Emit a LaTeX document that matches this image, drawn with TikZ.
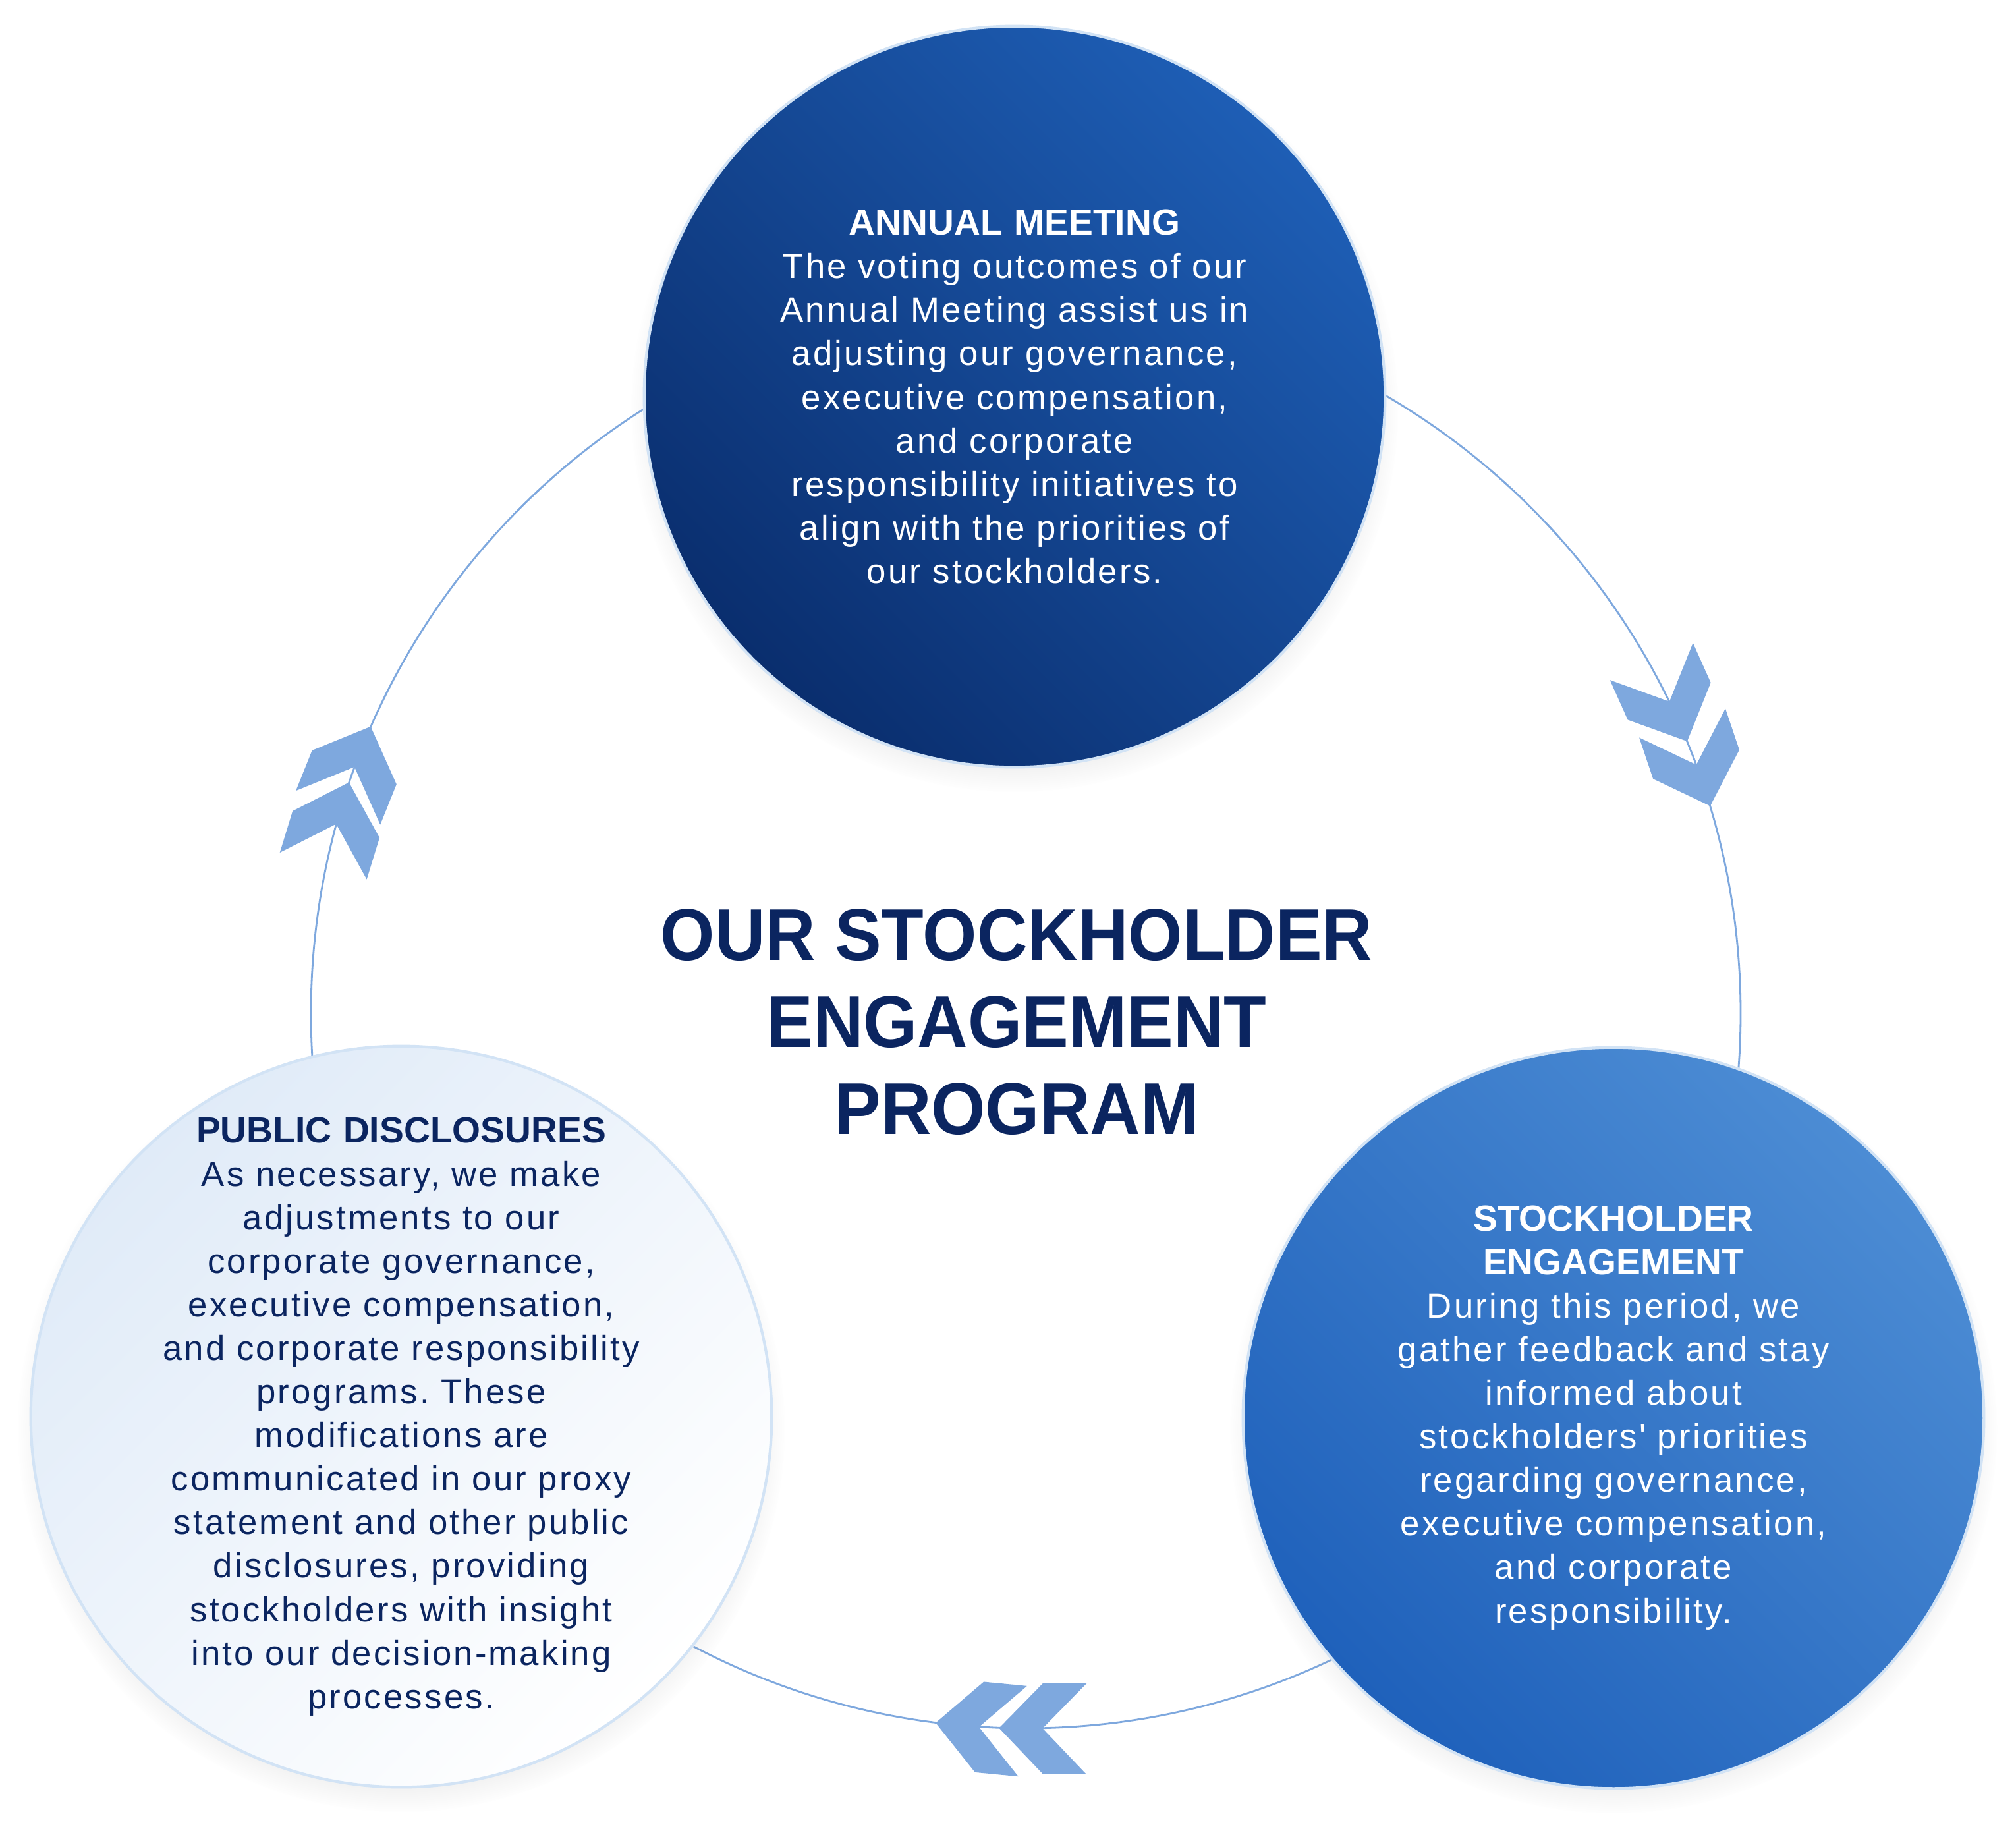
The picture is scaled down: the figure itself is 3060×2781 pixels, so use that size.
\documentclass[tikz,border=0pt]{standalone}
\usepackage{fontspec}
\setmainfont{Liberation Sans}
\newfontfamily\bodyfont[LetterSpace=6]{Liberation Sans}
\newfontfamily\titlefont[FakeStretch=0.95]{Liberation Sans}
\newcommand\head[1]{{\fontspec{Liberation Sans}\bfseries\fontsize{15.7}{18.78}\selectfont #1}}
\frenchspacing
\usepackage{tikz}
\usetikzlibrary{shadows}

\definecolor{navy}{HTML}{0B2560}
\definecolor{ringblue}{HTML}{7EA8DE}
\definecolor{edgeblue}{HTML}{D2E3F5}
\definecolor{deepA}{HTML}{0A2E6E}
\definecolor{deepB}{HTML}{1E5EB5}
\definecolor{midA}{HTML}{1F61BB}
\definecolor{midB}{HTML}{4C8CD4}
\definecolor{paleA}{HTML}{E0EBF8}

\tikzset{
  disc/.style={circle, minimum size=11.24cm, inner sep=0pt, draw=edgeblue, line width=1.2pt,
    circular drop shadow={shadow xshift=0pt, shadow yshift=-5pt, shadow scale=1.035, opacity=.22}},
  blurb/.style={align=center, text width=9cm, inner sep=0pt,
    font=\bodyfont\fontsize{15}{18.78}\selectfont},
  chevron/.style={fill=ringblue},
}

\begin{document}
\begin{tikzpicture}[x=0.01cm,y=0.01cm]

        \fill[white] (0,0) rectangle (3060,-2781);
        \useasboundingbox (0,0) rectangle (3060,-2781);

        \coordinate (ringc) at (1557,-1538);
        \draw[ringblue, line width=0.8pt] (ringc) circle[radius=1085];

        % chevrons on the ring, pointing clockwise
        \foreach \an in {24.1,18.6,-90.4,-95.5,158.1,162.9}
            { \fill[chevron, shift={(ringc)}, shift={(\an:1085)}, rotate=\an-90]
                (33,0) -- (-33.7,69) -- (-99.7,69) -- (-33,0) -- (-99.7,-69) -- (-33.7,-69) -- cycle; }

        \node[disc, bottom color=deepA, top color=deepB, shading angle=-45] (annual) at (1540,-602) {};
        \node[disc, bottom color=midA, top color=midB, shading angle=-45] (engage) at (2449,-2152) {};
        \node[disc, top color=paleA, bottom color=white, shading angle=45] (disclose) at (609,-2150) {};

        \node[blurb, text=white] (annualtxt) at (annual) {\head{ANNUAL MEETING}\\
            The voting outcomes of our\\ Annual Meeting assist us in\\ adjusting our governance,\\
            executive compensation,\\ and corporate\\ responsibility initiatives to\\
            align with the priorities of\\ our stockholders.};
        \node[blurb, text=white] (engagetxt) at (engage) {\head{STOCKHOLDER}\\ \head{ENGAGEMENT}\\
            During this period, we\\ gather feedback and stay\\ informed about\\
            stockholders' priorities\\ regarding governance,\\ executive compensation,\\
            and corporate\\ responsibility.};
        \node[blurb, text=navy] (disclosetxt) at (disclose) {\head{PUBLIC DISCLOSURES}\\
            As necessary, we make\\ adjustments to our\\ corporate governance,\\
            executive compensation,\\ and corporate responsibility\\ programs. These\\
            modifications are\\ communicated in our proxy\\ statement and other public\\
            disclosures, providing\\ stockholders with insight\\ into our decision-making\\ processes.};

        \node[align=center, text=navy, font=\titlefont\bfseries\fontsize{31.7}{37.5}\selectfont]
            (title) at (1543,-1551) {OUR STOCKHOLDER\\ ENGAGEMENT\\ PROGRAM};
    \end{tikzpicture}
\end{document}
